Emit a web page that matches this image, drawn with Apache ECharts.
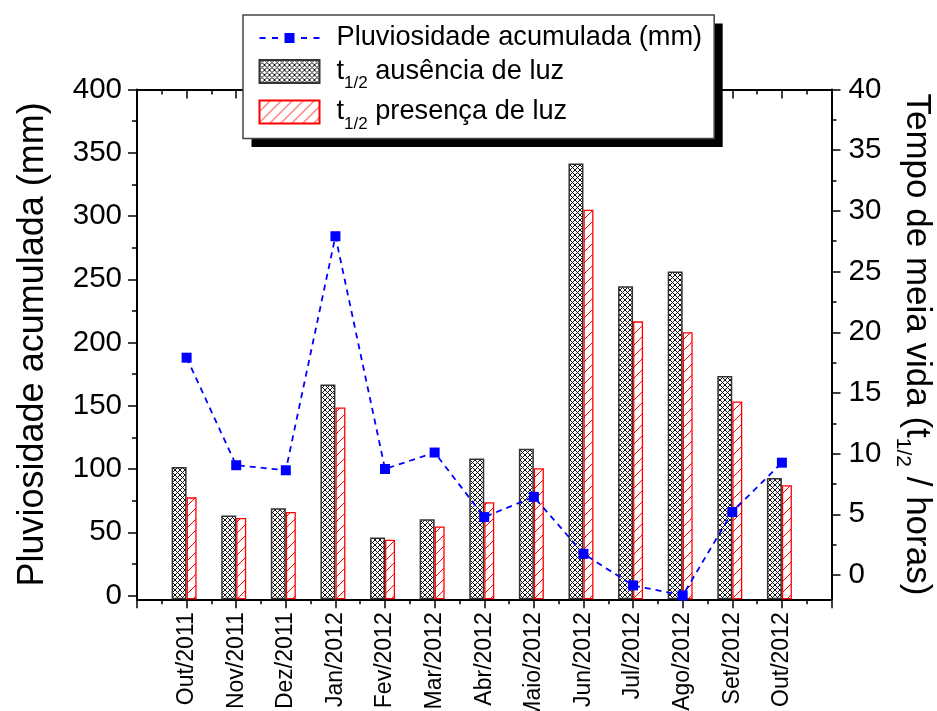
<!DOCTYPE html>
<html><head><meta charset="utf-8">
<script src="https://cdn.jsdelivr.net/npm/echarts@6/dist/echarts.min.js"></script>
<style>html,body{margin:0;padding:0;background:#fff}#c{width:937px;height:711px}</style>
</head><body><div id="c"></div>
<script>
// ---------------- data ----------------
const categories = ['Out/2011','Nov/2011','Dez/2011','Jan/2012','Fev/2012','Mar/2012','Abr/2012','Maio/2012','Jun/2012','Jul/2012','Ago/2012','Set/2012','Out/2012'];
const pluviosidade = [188, 103, 99, 284, 100, 113, 62, 78, 33, 8, 0, 66, 105];
const tAusencia = [8.9, 4.9, 5.5, 15.7, 3.1, 4.6, 9.6, 10.4, 33.9, 23.8, 25.0, 16.4, 8.0];
const tPresenca = [6.4, 4.7, 5.2, 13.8, 2.9, 4.0, 6.0, 8.8, 30.1, 20.9, 20.0, 14.3, 7.4];
const leftTicks = [0, 50, 100, 150, 200, 250, 300, 350, 400];
const leftMinor = [25, 75, 125, 175, 225, 275, 325, 375];
const rightTicks = [0, 5, 10, 15, 20, 25, 30, 35, 40];
const rightMinor = [2.5, 7.5, 12.5, 17.5, 22.5, 27.5, 32.5, 37.5];

const NAME_P = 'Pluviosidade acumulada (mm)';
const NAME_A = 't1/2 ausência de luz';
const NAME_R = 't1/2 presença de luz';

const FONT = 'Liberation Sans, Arial, Helvetica, sans-serif';

function crossHatch() {
  const p = 5, c = document.createElement('canvas'); c.width = c.height = p;
  const g = c.getContext('2d'); g.fillStyle = '#fff'; g.fillRect(0, 0, p, p);
  g.fillStyle = '#111';
  for (let i = 0; i < p; i++) { g.fillRect(i, i, 1, 1); g.fillRect(i, p - 1 - i, 1, 1); }
  return c;
}
function diagHatch() {
  const p = 11, c = document.createElement('canvas'); c.width = c.height = p;
  const g = c.getContext('2d'); g.fillStyle = '#fff'; g.fillRect(0, 0, p, p);
  g.strokeStyle = '#ff0000'; g.lineWidth = 1; g.beginPath();
  for (const k of [-p, 0, p]) { g.moveTo(k, p); g.lineTo(k + p, 0); }
  g.stroke(); return c;
}

const chart = echarts.init(document.getElementById('c'), null, {renderer: 'canvas'});
const axisLineStyle = {color: '#000', width: 2};
const tickStyle = {color: '#000', width: 1.5};
const catLabel = v => (Number.isInteger(v) && v >= 1 && v <= categories.length) ? categories[v - 1] : '';

const legendFont = 27.2;
function legendFormatter(name) {
  if (name === NAME_P) return '{p|' + name + '}';
  return '{p|t}{s|1/2}{a|' + name.slice(4) + '}';
}
function legendRich(col) {
  return {
    p: {fontSize: legendFont, fontFamily: FONT, color: col, padding: [0, 0, 0, 12]},
    a: {fontSize: legendFont, fontFamily: FONT, color: col},
    s: {fontSize: 17, fontFamily: FONT, color: col, padding: [24, 0, 0, 0]}
  };
}
const lineIcon = 'path://M0,4h6v2h-6z M12.5,4h6v2h-6z M25,0h10v10h-10z M41.5,4h6v2h-6z M54,4h6v2h-6z';
function makeLegend(visible) {
  const hide = visible ? {} : {opacity: 0};
  return {
    orient: 'vertical', left: 243, top: 15,
    padding: [9.5, 12, 6, 15.5],
    itemWidth: 60, itemHeight: 23, itemGap: 6.5,
    backgroundColor: visible ? 'transparent' : '#fff',
    borderColor: visible ? '#444' : 'transparent', borderWidth: visible ? 1.5 : 0,
    shadowColor: visible ? 'transparent' : '#000', shadowBlur: 0,
    shadowOffsetX: visible ? 0 : 8.5, shadowOffsetY: visible ? 0 : 8.5,
    symbolKeepAspect: true, selectedMode: false,
    data: [
      {name: NAME_P, icon: lineIcon, itemStyle: Object.assign({color: '#0000ff', borderWidth: 0}, hide)},
      {name: NAME_A, icon: 'rect', itemStyle: Object.assign({}, hide)},
      {name: NAME_R, icon: 'rect', itemStyle: Object.assign({}, hide)}
    ],
    formatter: legendFormatter,
    textStyle: {fontFamily: FONT, color: visible ? '#000' : 'rgba(0,0,0,0)', fontSize: legendFont,
      rich: legendRich(visible ? '#000' : 'rgba(0,0,0,0)')}
  };
}

const option = {
  animation: false,
  backgroundColor: '#fff',
  textStyle: {fontFamily: FONT, color: '#000'},
  grid: {left: 137, right: 105.5, top: 89.5, bottom: 111.7, containLabel: false, outerBoundsMode: 'none'},
  xAxis: [
    { type: 'value', position: 'bottom', min: 0, max: 14, interval: 1,
      axisLine: {show: true, onZero: false, lineStyle: axisLineStyle},
      axisTick: {show: true, length: 9, lineStyle: tickStyle},
      minorTick: {show: true, splitNumber: 2, length: 5, lineStyle: tickStyle},
      splitLine: {show: false}, minorSplitLine: {show: false},
      axisLabel: {rotate: 90, margin: 13, fontSize: 23, color: '#000', fontFamily: FONT, formatter: catLabel, showMinLabel: true, showMaxLabel: true}
    },
    { type: 'value', show: false, min: 0.1512, max: 14.1512, axisLine: {onZero: false} },
    { type: 'value', show: false, min: -0.1008, max: 13.8992, axisLine: {onZero: false} },
    { type: 'value', position: 'top', min: 0, max: 14, interval: 1,
      axisLine: {show: true, onZero: false, lineStyle: axisLineStyle},
      axisTick: {show: true, inside: true, length: 9, lineStyle: tickStyle},
      minorTick: {show: true, splitNumber: 2, length: 5, lineStyle: tickStyle},
      splitLine: {show: false}, axisLabel: {show: false}
    }
  ],
  yAxis: [
    { type: 'value', position: 'left', min: -3, max: 400,
      name: NAME_P, nameLocation: 'middle', nameRotate: 90, nameGap: 86,
      nameTextStyle: {fontSize: 36, color: '#000', fontFamily: FONT},
      axisLine: {show: true, onZero: false, lineStyle: axisLineStyle},
      axisTick: {show: true, length: 9, customValues: leftTicks, lineStyle: tickStyle},
      axisLabel: {customValues: leftTicks, margin: 15, fontSize: 29.5, color: '#000', fontFamily: FONT,
        formatter: v => (leftTicks.indexOf(v) >= 0 ? String(v) : '')},
      splitLine: {show: false}
    },
    { type: 'value', position: 'right', min: -2, max: 40, startValue: -2,
      name: '{b|Tempo de meia vida (t}{s|1/2}{b| / horas)}', nameLocation: 'middle', nameRotate: -90, nameGap: 61,
      nameTextStyle: {fontSize: 35, color: '#000', fontFamily: FONT,
        rich: {b: {fontSize: 35, fontFamily: FONT, color: '#000'}, s: {fontSize: 21, fontFamily: FONT, color: '#000', padding: [28, 0, 0, 0]}}},
      axisLine: {show: true, onZero: false, lineStyle: axisLineStyle},
      axisTick: {show: true, length: 9, customValues: rightTicks, lineStyle: tickStyle},
      axisLabel: {customValues: rightTicks, margin: 17, fontSize: 29.5, color: '#000', fontFamily: FONT,
        formatter: v => (rightTicks.indexOf(v) >= 0 ? String(v) : '')},
      splitLine: {show: false}
    },
    { type: 'value', position: 'left', min: -3, max: 400,
      axisLine: {show: false, onZero: false}, axisLabel: {show: false}, splitLine: {show: false},
      axisTick: {show: true, length: 5, customValues: leftMinor, lineStyle: tickStyle}
    },
    { type: 'value', position: 'right', min: -2, max: 40,
      axisLine: {show: false, onZero: false}, axisLabel: {show: false}, splitLine: {show: false},
      axisTick: {show: true, length: 5, customValues: rightMinor, lineStyle: tickStyle}
    }
  ],
  legend: [makeLegend(false), makeLegend(true)],
  series: [
    { name: NAME_A, type: 'bar', xAxisIndex: 1, yAxisIndex: 1, barWidth: 15,
      data: tAusencia.map((v, i) => [i + 1, v]),
      itemStyle: {color: {image: crossHatch(), repeat: 'repeat'}, borderColor: '#333', borderWidth: 1.5}, z: 2 },
    { name: NAME_R, type: 'bar', xAxisIndex: 2, yAxisIndex: 1, barWidth: 10,
      data: tPresenca.map((v, i) => [i + 1, v]),
      itemStyle: {color: {image: diagHatch(), repeat: 'repeat'}, borderColor: '#ff0000', borderWidth: 1.3}, z: 2 },
    { name: NAME_P, type: 'line', xAxisIndex: 0, yAxisIndex: 0,
      data: pluviosidade.map((v, i) => [i + 1, v]),
      symbol: 'rect', symbolSize: 10,
      lineStyle: {color: '#0000ff', width: 1.8, type: [6, 5]},
      itemStyle: {color: '#0000ff', borderWidth: 0}, z: 5 }
  ]
};
chart.setOption(option);
</script></body></html>
